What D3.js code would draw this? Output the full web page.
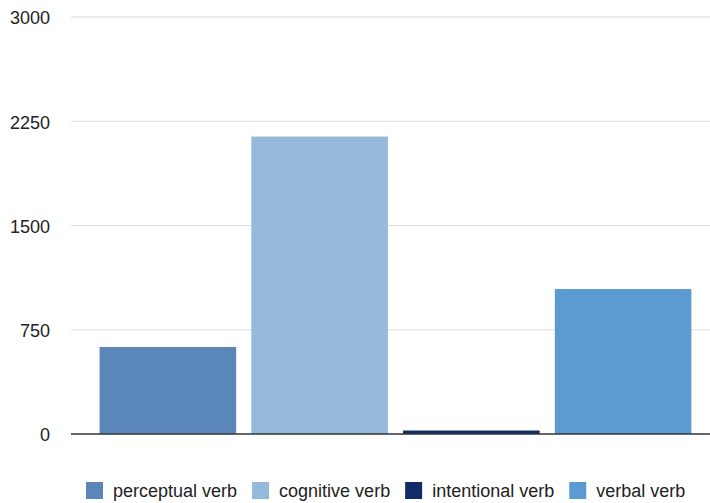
<!DOCTYPE html>
<meta charset="utf-8">
<style>
body { margin: 0; background: #fff; }
text { font-family: "Liberation Sans", Arial, Helvetica, sans-serif; fill: #222; }
</style>
<body>
<script src="https://d3js.org/d3.v7.min.js"></script>
<script>

// Data
var categories = ["perceptual verb", "cognitive verb", "intentional verb", "verbal verb"];
var counts = [626, 2140, 25, 1043];
var colors = ["#5b86b9", "#95b9db", "#0f2c68", "#5c9bd2"];
var yTicks = [0, 750, 1500, 2250, 3000];

var width = 710, height = 503;

var svg = d3.select("body").append("svg")
    .attr("width", width)
    .attr("height", height);

// Scales
var x = d3.scaleBand()
    .domain(categories)
    .range([92, 699])
    .paddingInner(0.1)
    .paddingOuter(0.05);

var y = d3.scaleLinear()
    .domain([0, 3000])
    .range([434, 17]);

// Gridlines
svg.append("g")
  .selectAll("line")
  .data(yTicks.filter(function(d) { return d > 0; }))
  .enter().append("line")
    .attr("x1", 71)
    .attr("x2", width)
    .attr("y1", function(d) { return y(d); })
    .attr("y2", function(d) { return y(d); })
    .attr("stroke", "#dcdcdc")
    .attr("stroke-width", 1.2);

// Y axis labels
var yAxis = d3.axisLeft(y).tickValues(yTicks).tickFormat(d3.format("d")).tickSize(0).tickPadding(0);
svg.append("g")
    .attr("transform", "translate(50,1)")
    .call(yAxis)
    .call(function(g) { g.select(".domain").remove(); })
    .selectAll("text")
    .style("font-size", "18px")
    .attr("fill", "#222");

// Bars
svg.append("g")
  .selectAll("rect")
  .data(categories)
  .enter().append("rect")
    .attr("x", function(d) { return x(d); })
    .attr("width", x.bandwidth())
    .attr("y", function(d, i) { return y(counts[i]); })
    .attr("height", function(d, i) { return y(0) - y(counts[i]); })
    .attr("fill", function(d, i) { return colors[i]; });

// Baseline
svg.append("line")
    .attr("x1", 71)
    .attr("x2", width)
    .attr("y1", y(0))
    .attr("y2", y(0))
    .attr("stroke", "#333")
    .attr("stroke-width", 1.6);

// Legend
var legend = svg.append("g");
var lx = 86;
categories.forEach(function(c, i) {
  legend.append("rect")
      .attr("x", lx)
      .attr("y", 482)
      .attr("width", 17)
      .attr("height", 17)
      .attr("fill", colors[i]);
  var t = legend.append("text")
      .attr("x", lx + 27)
      .attr("y", 497)
      .style("font-size", "18px")
      .text(c);
  lx += 27 + t.node().getComputedTextLength() + 15;
});

</script>
</body>
